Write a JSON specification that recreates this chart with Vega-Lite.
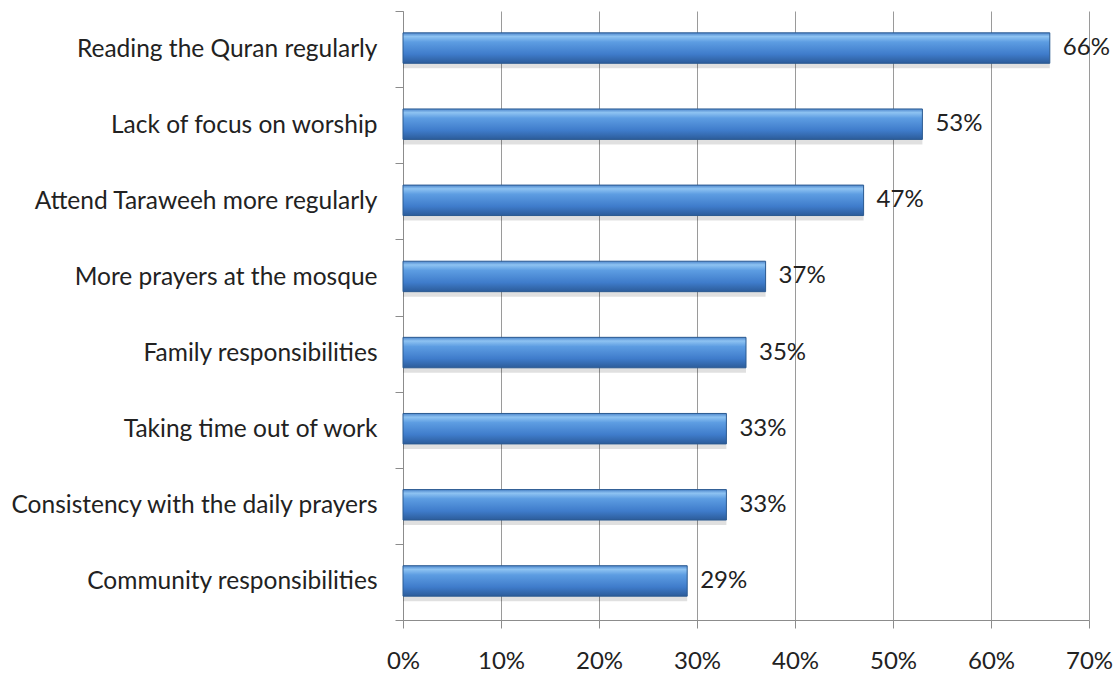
{
  "$schema": "https://vega.github.io/schema/vega-lite/v6.json",
  "width": 686,
  "height": 609,
  "autosize": {"type": "none"},
  "padding": {"left": 403, "top": 11, "right": 29, "bottom": 54},
  "background": "white",
  "config": {"view": {"stroke": null}, "font": "Lato"},
  "data": {"values": [
    {"item": "Reading the Quran regularly", "pct": 0.66},
    {"item": "Lack of focus on worship", "pct": 0.53},
    {"item": "Attend Taraweeh more regularly", "pct": 0.47},
    {"item": "More prayers at the mosque", "pct": 0.37},
    {"item": "Family responsibilities", "pct": 0.35},
    {"item": "Taking time out of work ", "pct": 0.33},
    {"item": "Consistency with the daily prayers", "pct": 0.33},
    {"item": "Community responsibilities", "pct": 0.29}
  ]},
  "encoding": {
    "y": {"field": "item", "type": "nominal", "sort": null,
      "scale": {"paddingInner": 0, "paddingOuter": 0},
      "axis": {"title": null, "tickBand": "extent", "labelFontSize": 24.5, "labelColor": "#222222",
        "labelPadding": 18, "labelLimit": 600, "domainColor": "#8c8c8c", "tickColor": "#8c8c8c", "tickSize": 8, "grid": false, "labelFont": "Lato"}},
    "x": {"field": "pct", "type": "quantitative",
      "scale": {"domain": [0, 0.7], "nice": false},
      "axis": {"title": null, "values": [0,0.1,0.2,0.3,0.4,0.5,0.6,0.7], "format": ".0%",
        "labelFontSize": 24, "labelColor": "#222222", "labelPadding": 21, "labelFont": "Lato",
        "domainColor": "#8c8c8c", "tickColor": "#8c8c8c", "tickSize": 8, "grid": true, "gridColor": "#9a9a9a", "labelFlush": false}}
  },
  "layer": [
    {"mark": {"type": "bar", "height": {"band": 0.4}, "yOffset": 4, "fill": "#000000", "opacity": 0.12}},
    {"mark": {"type": "bar", "height": {"band": 0.4}, "yOffset": -1, "stroke": "#2b5a91", "strokeWidth": 1,
      "fill": {"gradient": "linear", "x1": 0, "y1": 0, "x2": 0, "y2": 1,
        "stops": [
          {"offset": 0, "color": "#4d86cc"},
          {"offset": 0.12, "color": "#8ec3f2"},
          {"offset": 0.3, "color": "#5d9de2"},
          {"offset": 0.7, "color": "#3f7ccb"},
          {"offset": 1, "color": "#2c5c9a"}
        ]}}},
    {"mark": {"type": "text", "align": "left", "baseline": "middle", "dx": 13, "yOffset": -1, "fontSize": 24, "color": "#222222", "font": "Lato"},
      "encoding": {"text": {"field": "pct", "type": "quantitative", "format": ".0%"}}}
  ]
}
